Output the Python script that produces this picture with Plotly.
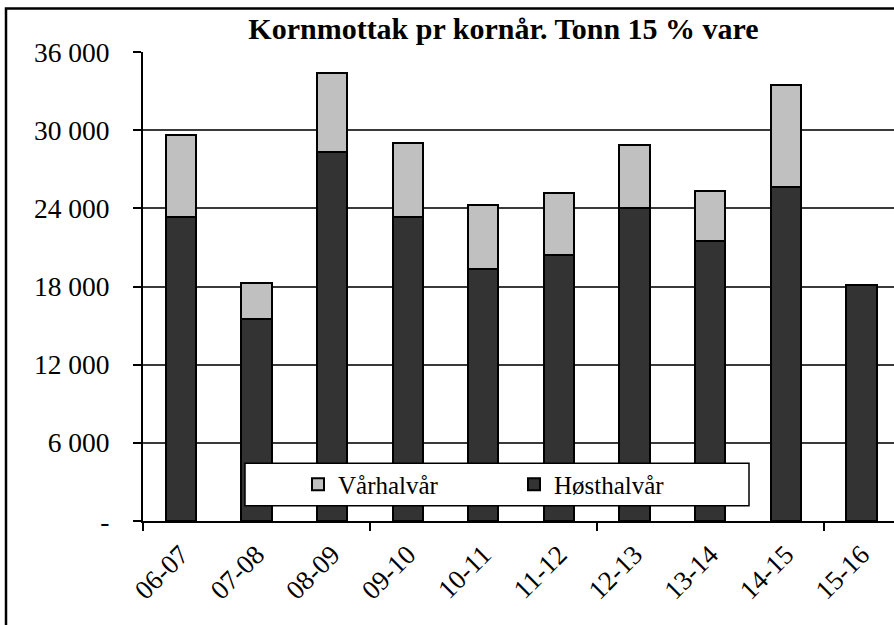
import plotly.graph_objects as go

categories = ["06-07", "07-08", "08-09", "09-10", "10-11", "11-12", "12-13", "13-14", "14-15", "15-16"]
hosthalvar = [23300, 15500, 28300, 23300, 19350, 20400, 24000, 21500, 25600, 18150]
varhalvar = [6300, 2750, 6100, 5700, 4900, 4800, 4900, 3850, 7850, None]
ytick_vals = [0, 6000, 12000, 18000, 24000, 30000, 36000]
ytick_text = ["-", "6 000", "12 000", "18 000", "24 000", "30 000", "36 000"]
title_text = "Kornmottak pr kornår. Tonn 15 % vare"

FONT = "Liberation Serif, Times New Roman, serif"
xpos = list(range(len(categories)))

fig = go.Figure()
fig.add_trace(go.Bar(
    x=xpos, y=hosthalvar, name="Høsthalvår",
    marker=dict(color="#333333", line=dict(color="black", width=2)),
    legendrank=2,
))
fig.add_trace(go.Bar(
    x=xpos, y=varhalvar, name="Vårhalvår",
    marker=dict(color="#C0C0C0", line=dict(color="black", width=2)),
    legendrank=1,
))

W, H = 894, 625
L, T, B = 143, 52, 104
plot_w = W - L
cat_px = 75.62

def px_x(p):
    return (p - L) / plot_w
def px_y(p):
    return (H - B - p) / (H - T - B)

fig.update_layout(
    width=W, height=H,
    margin=dict(l=L, r=0, t=T, b=B, pad=0),
    paper_bgcolor="white", plot_bgcolor="white",
    barmode="stack", bargap=0.6,
    font=dict(family=FONT, size=27, color="black"),
    title=dict(text=title_text, x=503.5 / W, xanchor="center", y=1 - 28 / H, yanchor="middle",
               font=dict(family=FONT, size=30, color="black", weight="bold")),
    showlegend=True,
    legend=dict(orientation="h", x=px_x(298), xanchor="left", y=px_y(484.5), yanchor="middle",
                bgcolor="rgba(0,0,0,0)", borderwidth=0, font=dict(family=FONT, size=25, color="black"),
                entrywidth=171, traceorder="normal"),
    xaxis=dict(
        range=[-0.5, -0.5 + plot_w / cat_px],
        tickmode="array", tickvals=xpos, ticktext=categories, tickangle=-45,
        ticks="outside", ticklen=5, tickcolor="rgba(0,0,0,0)",
        showline=True, linecolor="black", linewidth=2,
        showgrid=False, zeroline=False,
        minor=dict(tickmode="array", tickvals=[-0.5, 2.5, 5.5, 8.5], ticks="outside", ticklen=8,
                   tickcolor="black", tickwidth=1.5, showgrid=False),
        tickfont=dict(family=FONT, size=27, color="black"),
    ),
    yaxis=dict(
        range=[0, 36000], tickmode="array", tickvals=ytick_vals, ticktext=ytick_text,
        ticks="outside", ticklen=8, tickcolor="black", tickwidth=1.5,
        showline=True, linecolor="black", linewidth=2,
        showgrid=True, gridcolor="#3a3a3a", gridwidth=1.5, zeroline=False,
        ticklabelstandoff=18,
        tickfont=dict(family=FONT, size=27.5, color="black"),
    ),
    shapes=[
        dict(type="rect", xref="paper", yref="paper",
             x0=px_x(245), x1=px_x(749), y0=px_y(505.7), y1=px_y(463.3),
             fillcolor="white", line=dict(color="black", width=1.5), layer="above"),
        dict(type="rect", xref="paper", yref="paper",
             x0=px_x(6), x1=px_x(W + 40), y0=px_y(H + 40), y1=px_y(8.5),
             fillcolor="rgba(0,0,0,0)", line=dict(color="black", width=2.5), layer="above"),
    ],
)

fig.write_html("out.html", config={"displayModeBar": False},
               post_script="document.body.style.margin='0';document.body.style.overflow='hidden';")
